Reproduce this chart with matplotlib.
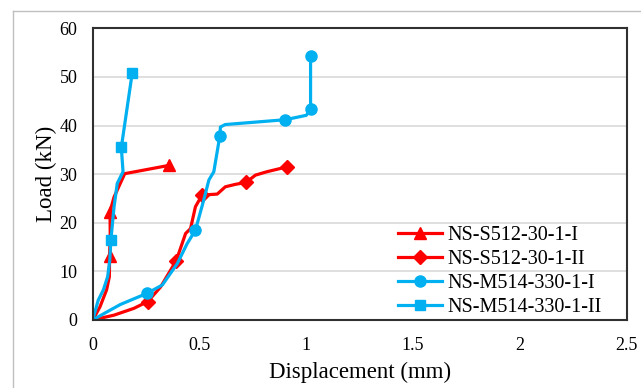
import matplotlib
matplotlib.use("Agg")
import matplotlib.pyplot as plt
from matplotlib.lines import Line2D

plt.rcParams['font.family'] = ['Liberation Serif', 'DejaVu Serif']

# load-displacement curves of the four specimens
disp_s_1 = [0, 0.034, 0.065, 0.078, 0.079, 0.082, 0.081, 0.10, 0.15, 0.357]
load_s_1 = [0, 2.7, 6.2, 8.9, 13.2, 18.0, 22.3, 25.3, 30.1, 31.8]
mark_s_1 = [4, 6, 9]

disp_s_2 = [0, 0.10, 0.193, 0.258, 0.318, 0.391, 0.435, 0.458, 0.481, 0.512,
            0.583, 0.621, 0.668, 0.718, 0.762, 0.816, 0.91]
load_s_2 = [0, 1.0, 2.4, 3.8, 6.8, 12.2, 17.8, 18.8, 23.3, 25.7,
            25.9, 27.4, 27.9, 28.3, 29.8, 30.5, 31.5]
mark_s_2 = [3, 5, 9, 13, 16]

disp_m_1 = [0, 0.06, 0.13, 0.255, 0.326, 0.396, 0.442, 0.481, 0.52, 0.544,
            0.567, 0.595, 0.598, 0.62, 0.902, 1.0, 1.02, 1.02]
load_m_1 = [0, 1.5, 3.2, 5.5, 7.2, 11.6, 15.7, 18.5, 24.7, 28.8,
            30.5, 37.8, 39.7, 40.2, 41.2, 42.1, 43.3, 54.2]
mark_m_1 = [3, 7, 11, 14, 16, 17]

disp_m_2 = [0, 0.026, 0.05, 0.07, 0.08, 0.085, 0.10, 0.115, 0.142, 0.134, 0.185]
load_m_2 = [0, 4.1, 6.2, 8.9, 12.3, 16.4, 23.3, 28.1, 30.5, 35.5, 50.8]
mark_m_2 = [5, 9, 10]

labels = ['NS-S512-30-1-I', 'NS-S512-30-1-II', 'NS-M514-330-1-I', 'NS-M514-330-1-II']

red = '#ff0000'
blue = '#00b0f0'

fig = plt.figure(figsize=(6.41, 3.88), dpi=100)
ax = fig.add_axes([92.7 / 641, 68 / 388, 534 / 641, 291.7 / 388])

ax.plot(disp_s_1, load_s_1, color=red, lw=2.3, marker='^', ms=8.5,
        markevery=mark_s_1, label=labels[0])
ax.plot(disp_s_2, load_s_2, color=red, lw=2.3, marker='D', ms=7.5,
        markevery=mark_s_2, label=labels[1])
ax.plot(disp_m_1, load_m_1, color=blue, lw=2.3, marker='o', ms=8,
        markevery=mark_m_1, label=labels[2])
ax.plot(disp_m_2, load_m_2, color=blue, lw=2.3, marker='s', ms=7.5,
        markevery=mark_m_2, label=labels[3])

ax.set_xlim(0, 2.5)
ax.set_ylim(0, 60)
ax.set_xticks([0, 0.5, 1, 1.5, 2, 2.5])
ax.set_xticklabels(['0', '0.5', '1', '1.5', '2', '2.5'])
ax.set_yticks(range(0, 61, 10))
ax.grid(axis='y', color='#d9d9d9', lw=1.2)
ax.set_axisbelow(True)
ax.tick_params(axis='both', length=0, labelsize=13)
ax.tick_params(axis='x', pad=12)
ax.tick_params(axis='y', pad=11)
for s in ax.spines.values():
    s.set_color('#303030')
    s.set_linewidth(1.5)

ax.set_xlabel('Displacement (mm)', fontsize=16.5, labelpad=6)
ax.set_ylabel('Load (kN)', fontsize=16.5, labelpad=2)

ax.legend(loc='upper left', bbox_to_anchor=(0.572, 0.324), frameon=False,
          fontsize=14.5, borderpad=0, handlelength=2.2, handletextpad=0.25,
          labelspacing=0.25, numpoints=1, borderaxespad=0)

# outer chart-area border
fig.add_artist(Line2D([13 / 641, 13 / 641], [0, 1 - 11 / 388],
                      transform=fig.transFigure, color='#bfbfbf', lw=1))
fig.add_artist(Line2D([13 / 641, 1], [1 - 11 / 388, 1 - 11 / 388],
                      transform=fig.transFigure, color='#bfbfbf', lw=1))

fig.savefig('out.png', dpi=100)
